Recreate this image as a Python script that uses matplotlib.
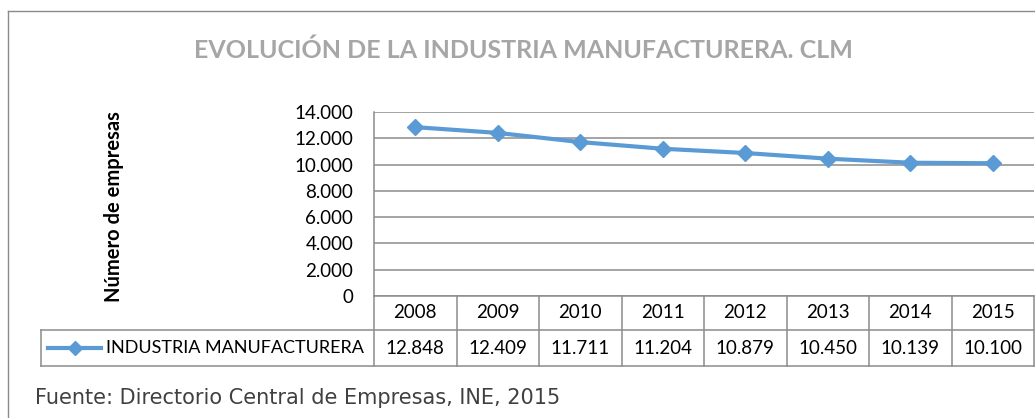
import matplotlib
matplotlib.use("Agg")
import matplotlib.pyplot as plt
from matplotlib.lines import Line2D
from matplotlib.ticker import FuncFormatter
import matplotlib.transforms as mtransforms

years = ["2008", "2009", "2010", "2011", "2012", "2013", "2014", "2015"]
values = [12848, 12409, 11711, 11204, 10879, 10450, 10139, 10100]
series_name = "INDUSTRIA MANUFACTURERA"
title = "EVOLUCIÓN DE LA INDUSTRIA MANUFACTURERA. CLM"
ylabel = "Número de empresas"
source = "Fuente: Directorio Central de Empresas, INE, 2015"
yticks = [0, 2000, 4000, 6000, 8000, 10000, 12000, 14000]

W, H = 1035, 418
fig = plt.figure(figsize=(W / 100, H / 100), dpi=100)
FONT = "Lato"
BLUE = "#5B9BD5"
GRID = "#8C8C8C"

def fx(px):
    return px / W

def fy(py):
    return 1 - py / H

# outer frame (top and left edges visible)
fig.add_artist(Line2D([fx(8), fx(8)], [fy(11), 0], transform=fig.transFigure, color="#8a8a8a", lw=1.0))
fig.add_artist(Line2D([fx(8), 1], [fy(11), fy(11)], transform=fig.transFigure, color="#8a8a8a", lw=1.0))

ax_l, ax_r, ax_t, ax_b = 374, 1034, 112, 296
ax = fig.add_axes([fx(ax_l), fy(ax_b), fx(ax_r - ax_l), (ax_b - ax_t) / H])
x = list(range(len(years)))
ax.plot(x, values, color=BLUE, lw=3, marker="D", ms=8.5, zorder=3, clip_on=False)
ax.set_xlim(-0.5, len(years) - 0.5)
ax.set_ylim(0, 14000)
ax.set_yticks(yticks)
ax.yaxis.set_major_formatter(FuncFormatter(lambda v, p: f"{int(v):,}".replace(",", ".")))
ax.set_xticks([])
ax.tick_params(axis="y", length=0, pad=15, labelsize=13.5, labelcolor="black")
for lab in ax.get_yticklabels():
    lab.set_fontfamily(FONT)
ax.grid(axis="y", color=GRID, lw=1.1)
ax.set_axisbelow(True)
for s in ["top", "right", "bottom"]:
    ax.spines[s].set_visible(False)
ax.spines["left"].set_color(GRID)
ax.spines["left"].set_linewidth(1.1)

# data table below the axes (x in data coords, y in axes coords)
trans = mtransforms.blended_transform_factory(ax.transData, ax.transAxes)
h = ax_b - ax_t
y0 = 0.0
y1 = -(330 - ax_b) / h
y2 = -(366 - ax_b) / h
leg_left = -0.5 - (ax_l - 41) / (ax_r - ax_l) * len(years)
kw = dict(transform=trans, color=GRID, lw=1.1, clip_on=False)
ax.add_line(Line2D([-0.5, len(years) - 0.5], [y0, y0], **kw))
ax.add_line(Line2D([leg_left, len(years) - 0.5], [y1, y1], **kw))
ax.add_line(Line2D([leg_left, len(years) - 0.5], [y2, y2], **kw))
ax.add_line(Line2D([leg_left, leg_left], [y1, y2], **kw))
for i in range(len(years) + 1):
    ax.add_line(Line2D([i - 0.5, i - 0.5], [y0, y2], **kw))
for i, (yr, v) in enumerate(zip(years, values)):
    ax.text(i, (y0 + y1) / 2, yr, transform=trans, ha="center", va="center",
            fontsize=13.5, family=FONT, clip_on=False)
    ax.text(i, (y1 + y2) / 2, f"{v:,}".replace(",", "."), transform=trans, ha="center",
            va="center", fontsize=13.5, family=FONT, clip_on=False)

# legend key inside table
ym = (y1 + y2) / 2
sc = len(years) / (ax_r - ax_l)
lx0 = -0.5 - (ax_l - 48) * sc
lx1 = -0.5 - (ax_l - 101) * sc
ax.add_line(Line2D([lx0, lx1], [ym, ym], transform=trans, color=BLUE, lw=3, clip_on=False))
ax.add_line(Line2D([(lx0 + lx1) / 2], [ym], transform=trans, color=BLUE, marker="D", ms=7, clip_on=False))
ax.text(-0.5 - (ax_l - 106) * sc, ym, series_name, transform=trans, ha="left", va="center",
        fontsize=13, family=FONT, clip_on=False)

fig.text(fx(523), fy(50), title, ha="center", va="center", fontsize=18,
         fontweight="bold", color="#A6A6A6", family=FONT)
fig.text(fx(114), fy(207), ylabel, ha="center", va="center", rotation=90,
         fontsize=14.5, fontweight="bold", family=FONT)
fig.text(fx(35), fy(398), source, ha="left", va="center", fontsize=15,
         color="#404040", family="DejaVu Sans")

fig.savefig("out.png", dpi=100)
